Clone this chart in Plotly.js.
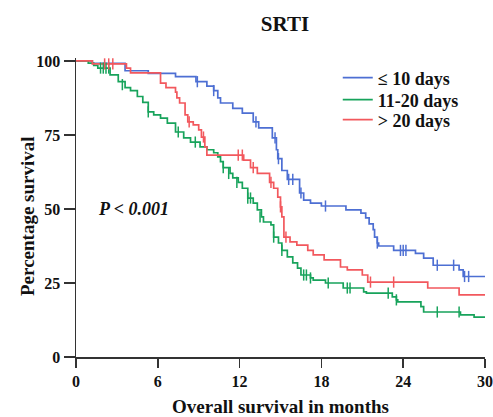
<!DOCTYPE html>
<html>
<head>
<meta charset="utf-8">
<script src="https://cdn.plot.ly/plotly-3.0.1.min.js"></script>
<style>html,body{margin:0;padding:0;background:#fff}#chart{width:493px;height:417px}</style>
</head>
<body>
<div id="chart"></div>
<script>
// ≤ 10 days
const blueT = [0,1.2,3.6,5.3,7.3,8.8,9.6,10.1,10.4,10.6,11.5,12.2,13.0,13.4,14.4,14.7,14.8,15.1,15.5,16.4,16.7,17.2,18.0,19.8,20.9,21.25,21.5,21.8,21.9,22.1,22.2,23.3,24.9,25.5,26.2,28.1,28.4,30];
const blueS = [100,99.2,96.7,95.8,94.7,93,91.5,90,87.5,85.8,84,82.4,79.4,77.4,74,70,67,63,60,55.4,53,52,51,49.7,48.6,47,45,43,40.5,38.5,37.5,36,35,33.4,31,29.4,27.2,27.2];
const blueCT = [8.9,10.1,13.2,14.6,14.85,15.6,15.9,16.5,18.3,22.1,23.8,24.0,24.2,26.5,27.7,28.5,28.8];
const blueCS = [93,90,79.4,74,67,60,60,55.4,51,38.5,36,36,36,31,31,27.2,27.2];
// 11-20 days
const greenT = [0,0.9,1.3,1.6,2.5,3.1,3.6,4.0,4.5,4.9,5.3,5.7,6.2,6.7,7.3,7.9,8.4,9.1,9.6,10.1,10.4,10.6,10.8,11.3,11.5,11.9,12.2,12.6,13.0,13.3,13.6,13.75,14.3,14.5,14.85,15.1,15.5,15.9,16.25,16.5,17.2,17.4,18.3,19.6,21.1,21.3,23.2,23.5,23.6,25.3,25.5,28.2,29.2,30];
const greenS = [100,99.3,98.5,97.6,95.3,93,91,90,88,86,82.8,81.8,80.7,79,76,74,72.6,71,70,69,67.6,66,64,62,60.5,59,57,53.7,52,49.7,47.3,45.6,44.6,40.5,38.5,36,33.8,31.8,30,27.7,26.7,26,25,23.3,22,21.6,20.3,19.3,18.6,17,15.2,14.2,13.5,13.5];
const greenCT = [1.8,2.0,2.2,2.4,3.4,5.3,7.5,8.75,10.8,11.2,11.8,12.6,12.8,13.5,14.5,15.1,16.7,16.9,17.2,18.5,19.9,20.1,22.9,23.5,26.5,28.1];
const greenCS = [97.6,97.6,97.6,97.6,92,82.8,76,72.6,64,62,59,53.7,53.7,47.3,40.5,36,27.7,27.7,26.7,25,23.3,23.3,21.6,19.3,15.2,15.2];
// > 20 days
const redT = [0,1.2,3.7,4.0,6.2,6.6,7.3,7.4,7.6,8.0,8.2,8.6,9.0,9.2,9.45,9.6,12.3,12.8,13.3,14.2,14.5,14.8,15.0,15.1,15.25,15.7,16.2,17.0,17.4,18.2,19.4,19.9,21.0,21.4,25.8,28.1,30];
const redS = [100,99,97.6,96,92.5,91,89.5,87.5,85.8,81.8,79.4,78.4,76.7,74.3,71,68.2,66.5,64,62,59,57,54,50.7,47.3,40.5,38.9,37.8,36,34.5,32.8,30.4,29.4,27.7,25.3,23.3,21,21];
const redCT = [2.1,2.4,2.7,8.3,9.35,11.9,12.2,13.0,14.3,15.0,15.4,21.6,23.3];
const redCS = [99,99,99,79.4,74.3,68.2,68.2,64,59,50.7,40.5,25.3,25.3];

const groupNames = ['\u2264 10 days','11-20 days','> 20 days'];
const xTicks = [0,6,12,18,24,30];
const yTicks = [0,25,50,75,100];

const colors = ['#4d6fd3','#17a35b','#f2585d'];
const series = [[blueT,blueS,blueCT,blueCS],[greenT,greenS,greenCT,greenCS],[redT,redS,redCT,redCS]];
const serif = 'Liberation Serif, Times New Roman, serif';
const legendIds = ['legend','legend2','legend3'];
const legendRowsPx = [78,100,120];

const traces = [];
series.forEach((s,i)=>{
  traces.push({x:s[0], y:s[1], type:'scatter', mode:'lines', line:{shape:'hv', color:colors[i], width:1.7}, name:groupNames[i], showlegend:true, legend:legendIds[i]});
});
series.forEach((s,i)=>{
  traces.push({x:s[2], y:s[3], type:'scatter', mode:'markers', marker:{symbol:'line-ns-open', size:8, line:{color:colors[i], width:1.5}, color:colors[i]}, showlegend:false, hoverinfo:'skip', cliponaxis:false});
});

const legendStyle = (py)=>({x:0.64, xanchor:'left', y:(357-py)/299, yanchor:'middle', bgcolor:'rgba(0,0,0,0)', font:{size:18, family:serif, weight:'bold', color:'#111'}, itemwidth:30});

const layout = {
  width:493, height:417,
  margin:{l:76, r:8, t:58, b:60},
  paper_bgcolor:'#fff', plot_bgcolor:'#fff',
  font:{family:serif, color:'#111'},
  title:{text:'<b>SRTI</b>', x:285/493, xref:'container', xanchor:'center', y:1-24/417, yref:'container', yanchor:'middle', font:{size:21, family:serif, color:'#111'}},
  xaxis:{range:[0,30], tickvals:xTicks, ticktext:xTicks.map(String), showgrid:false, zeroline:false, showline:true, linecolor:'#333', linewidth:1.5, ticks:'outside', ticklen:9, tickwidth:1.5, tickcolor:'#333', tickfont:{size:16, family:serif, weight:'bold', color:'#111'}},
  yaxis:{range:[0,101], tickvals:yTicks, ticktext:yTicks.map(String), showgrid:false, zeroline:false, showline:true, linecolor:'#333', linewidth:1.5, ticks:'outside', ticklen:11, tickwidth:1.5, tickcolor:'#333', tickfont:{size:16, family:serif, weight:'bold', color:'#111'}},
  legend:legendStyle(legendRowsPx[0]),
  legend2:legendStyle(legendRowsPx[1]),
  legend3:legendStyle(legendRowsPx[2]),
  annotations:[
    {x:1.5, y:50, xref:'x', yref:'y', xanchor:'left', yanchor:'middle', text:'<b><i>P < 0.001</i></b>', showarrow:false, font:{size:18, family:serif, color:'#111'}},
    {x:(27-76)/409, y:(357-216)/299, xref:'paper', yref:'paper', xanchor:'center', yanchor:'middle', textangle:-90, text:'<b>Percentage survival</b>', showarrow:false, font:{size:19, family:serif, color:'#111'}},
    {x:0.5, y:(357-407)/299, xref:'paper', yref:'paper', xanchor:'center', yanchor:'middle', text:'<b>Overall survival in months</b>', showarrow:false, font:{size:19, family:serif, color:'#111'}}
  ]
};
Plotly.newPlot('chart', traces, layout, {displayModeBar:false, staticPlot:true});
</script>
</body>
</html>
